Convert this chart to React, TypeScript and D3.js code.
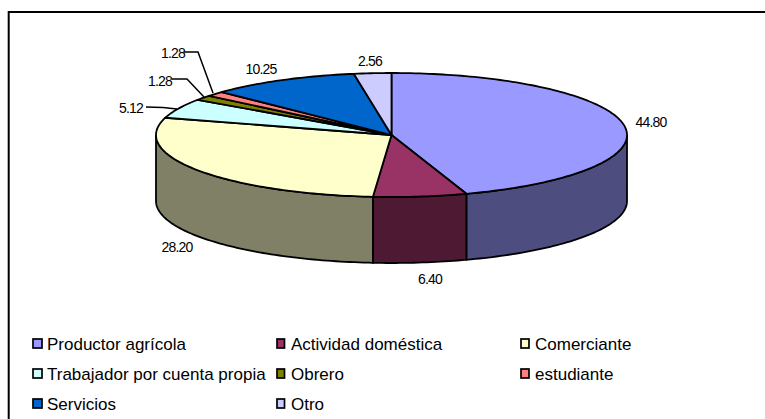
import React from "react";
import * as d3 from "d3";

const categories = ["Productor agrícola","Actividad doméstica","Comerciante","Trabajador por cuenta propia","Obrero","estudiante","Servicios","Otro"];
const values = [44.8,6.4,28.2,5.12,1.28,1.28,10.25,2.56];
const valueLabels = ["44.80","6.40","28.20","5.12","1.28","1.28","10.25","2.56"];
const topColors = ["#9999ff","#993366","#ffffcc","#ccffff","#808000","#ff8080","#0066cc","#ccccff"];
const sideColors = ["#4d4d80","#4d1933","#808066","#668080","#404000","#804040","#003366","#666680"];
const labelPos: [number,number][] = [[651,127],[430,284],[177,252],[131,113],[160,86],[173,58],[261,74],[370,66]];
const leaders: ([number,number][]|null)[] = [null,null,null,[[146,107],[163,107.5],[177,109]],[[172,79],[187,79],[204,97]],[[184,52],[198,52],[213,93]],null,null];
const swatchX = [33,277,521,33,277,521,33,277];
const swatchW = [9,7.5,8,9,7.5,8,9,7.5];
const legendTextX = [47,291,535,47,291,535,47,291];
const legendBase = [350,350,350,380,380,380,410,410];

const cx = 391.5, cy = 135, rx = 235.5, ry = 62, depth = 66;
const font = "Liberation Sans, Arial, sans-serif";

export default function App() {
  const pie = d3.pie<number>().sort(null).value(d => d)(values);
  const px = (t: number) => cx + rx * Math.sin(t);
  const py = (t: number) => cy - ry * Math.cos(t);
  const lf = d3.line<[number, number]>();

  const slices = pie.map(p => ({ i: p.index, a: p.startAngle, b: p.endAngle }));
  const arcPts = (a: number, b: number, dy = 0) => {
    const n = Math.max(2, Math.ceil((b - a) / 0.02));
    return d3.range(n + 1).map(k => {
      const t = a + (b - a) * k / n;
      return [px(t), py(t) + dy] as [number, number];
    });
  };
  const sides = slices.map(s => {
    const a = Math.max(s.a, Math.PI / 2), b = Math.min(s.b, 3 * Math.PI / 2);
    if (b <= a) return null;
    const pts = [...arcPts(a, b), ...arcPts(a, b, depth).reverse()];
    return { i: s.i, d: lf(pts)! + "Z" };
  }).filter(Boolean) as { i: number; d: string }[];

  return (
    <svg width={765} height={419} style={{ position: "absolute", left: 0, top: 0 }} fontFamily={font}>
      <rect x={0} y={0} width={765} height={419} fill="#fff" />
      <path d="M8.7,419V12H765" fill="none" stroke="#000" strokeWidth={2} />
      {sides.map(s => <path key={s.i} d={s.d} fill={sideColors[s.i]} stroke="#000" strokeWidth={1.8} />)}
      {slices.map(s => (
        <path key={s.i} d={lf([[cx, cy], ...arcPts(s.a, s.b)])! + "Z"} fill={topColors[s.i]} stroke="#000" strokeWidth={1.8} strokeLinejoin="round" />
      ))}
      {leaders.map((l, i) => l && <path key={i} d={lf(l)!} fill="none" stroke="#000" strokeWidth={1.5} />)}
      {valueLabels.map((t, i) => (
        <text key={i} x={labelPos[i][0]} y={labelPos[i][1]} textAnchor="middle" fontSize={14} letterSpacing={-0.8} fill="#000">{t}</text>
      ))}
      {categories.map((c, i) => (
        <g key={c}>
          <rect x={swatchX[i]} y={legendBase[i] - 11} width={swatchW[i]} height={9} fill={topColors[i]} stroke="#000" strokeWidth={1.7} />
          <text x={legendTextX[i]} y={legendBase[i]} fontSize={17} fill="#000">{c}</text>
        </g>
      ))}
    </svg>
  );
}
